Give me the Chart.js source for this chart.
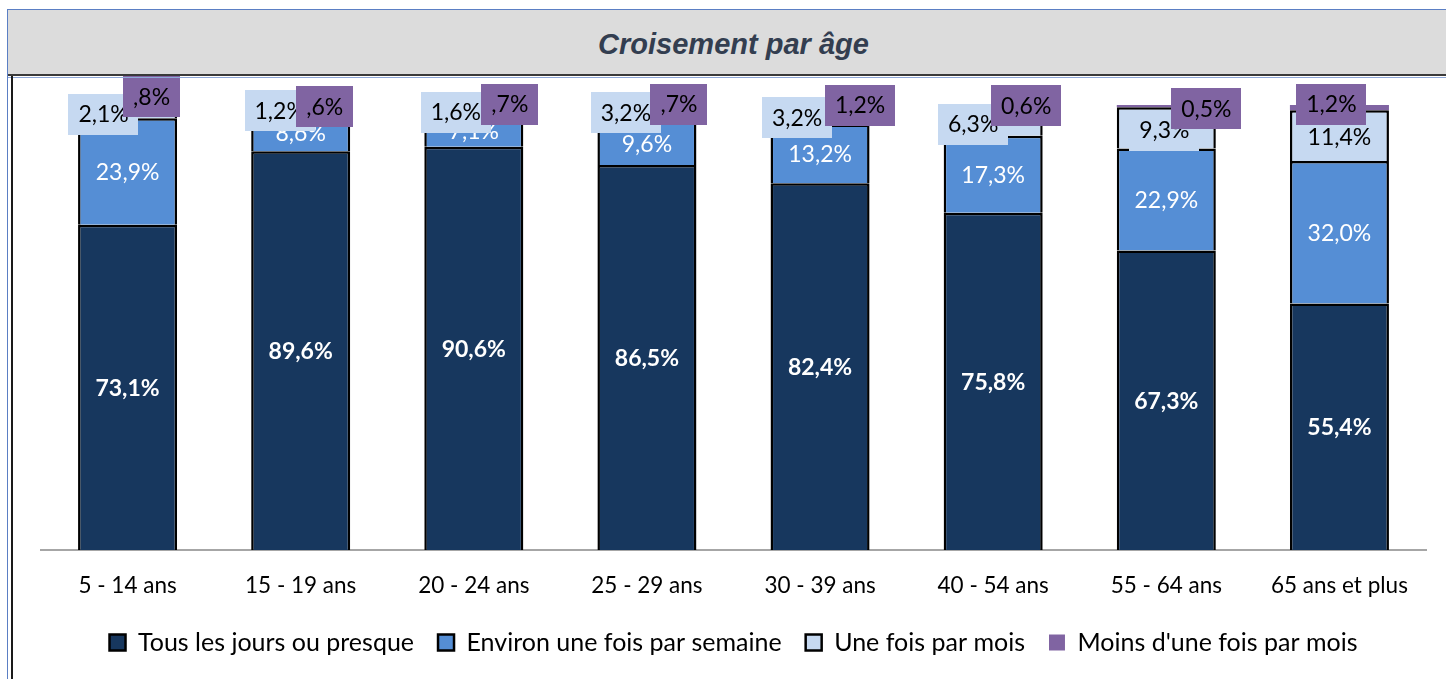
<!DOCTYPE html>
<html lang="fr">
<head>
<meta charset="utf-8">
<title>Croisement par âge</title>
<script src="https://cdn.jsdelivr.net/npm/chart.js@4.4.1/dist/chart.umd.min.js"></script>
<style>
  html, body { margin: 0; padding: 0; background: #fff; }
  #cadre { position: relative; width: 1446px; height: 679px; overflow: hidden; }
  #graph { position: absolute; left: 0; top: 0; }
  #titre {
    position: absolute; left: 7px; top: 9px; width: 1439px; height: 67px;
    box-sizing: border-box; padding-left: 13px;
    background: #dcdcdc;
    border-top: 1px solid #5b7fc4; border-left: 1px solid #5b7fc4; border-bottom: 2px solid #3a3a3a;
    font: italic bold 29px "Liberation Sans", Arial, sans-serif;
    color: #333e50; text-align: center; line-height: 68px;
  }
  .trait { position: absolute; }
</style>
</head>
<body>
<div id="cadre">
  <canvas id="graph" width="1446" height="679"></canvas>
  <div id="titre">Croisement par âge</div>
  <div class="trait" style="left:7px;top:77px;width:1439px;height:1px;background:#8fa8d8"></div>
  <div class="trait" style="left:7px;top:9px;width:1px;height:670px;background:#5b7fc4"></div>
  <div class="trait" style="left:11px;top:76px;width:2px;height:603px;background:#1a1a1a"></div>
</div>
<script>
// tranches d'âge
const categories = ['5 - 14 ans', '15 - 19 ans', '20 - 24 ans', '25 - 29 ans',
                    '30 - 39 ans', '40 - 54 ans', '55 - 64 ans', '65 ans et plus'];

// fréquence, en % de chaque tranche
const tousLesJours     = [73.1, 89.6, 90.6, 86.5, 82.4, 75.8, 67.3, 55.4];
const uneFoisSemaine   = [23.9, 8.6, 7.1, 9.6, 13.2, 17.3, 22.9, 32.0];
const uneFoisMois      = [2.1, 1.2, 1.6, 3.2, 3.2, 6.3, 9.3, 11.4];
const moinsUneFoisMois = [0.8, 0.6, 0.7, 0.7, 1.2, 0.6, 0.5, 1.2];

const seriesNames = ['Tous les jours ou presque', 'Environ une fois par semaine',
                     'Une fois par mois', "Moins d'une fois par mois"];

const couleurs = ['#17375e', '#558ed5', '#c6d9f1', '#8064a2'];

// style des étiquettes (décalages des petites valeurs posées hors des barres)
const styleEtiquettes = [
  { font: 'bold 23px Lato', color: '#fff' },
  { font: '23px Lato', color: '#fff' },
  { font: '23px Lato', color: '#000', bg: '#c6d9f1',
    dx: [-24, -21, -18, -21, -23, -20, -2, 0],
    dy: [0, 0, 0, -3, 0, 2, 2, 1] },
  { font: '23px Lato', color: '#000', bg: '#8064a2',
    dx: [24, 24, 36, 32, 40, 33, 40, -8],
    dy: [-11, 0, -3, -3, -3, -1, 2, -4],
    sansZero: [true, true, true, true, false, false, false, false] }
];

function pct(v) {
  return v.toFixed(1).replace('.', ',') + '%';
}

const etiquettes = {
  id: 'etiquettes',
  afterDatasetsDraw(chart) {
    const ctx = chart.ctx;
    chart.data.datasets.forEach((ds, d) => {
      const st = styleEtiquettes[d];
      chart.getDatasetMeta(d).data.forEach((bar, i) => {
        let txt = pct(ds.data[i]);
        if (st.sansZero && st.sansZero[i]) txt = txt.replace(/^0/, '');
        const x = bar.x + (st.dx ? st.dx[i] : 0);
        const y = (bar.y + bar.base) / 2 + (st.dy ? st.dy[i] : 0);
        ctx.save();
        ctx.font = st.font;
        const w = ctx.measureText(txt).width;
        if (st.bg) {
          ctx.fillStyle = st.bg;
          ctx.fillRect(Math.round(x - w / 2 - 10), Math.round(y - 20), Math.round(w + 20), 41);
        }
        ctx.fillStyle = st.color;
        ctx.textAlign = 'center';
        ctx.textBaseline = 'middle';
        ctx.fillText(txt, x, y + 1);
        ctx.restore();
      });
    });
  }
};

Chart.defaults.font.family = 'Lato';
Chart.defaults.color = '#000';

const valeurs = [tousLesJours, uneFoisSemaine, uneFoisMois, moinsUneFoisMois];

new Chart(document.getElementById('graph'), {
  type: 'bar',
  data: {
    labels: categories,
    datasets: valeurs.map((v, k) => ({
      label: seriesNames[k],
      data: v,
      backgroundColor: couleurs[k],
      borderColor: '#000',
      borderWidth: k === 3 ? 0 : 2.5,
      barPercentage: 0.572,
      categoryPercentage: 1
    }))
  },
  options: {
    responsive: false,
    animation: false,
    layout: { padding: { left: 41, right: 20, top: 105, bottom: 14 } },
    plugins: {
      title: { display: false },
      tooltip: { enabled: false },
      legend: {
        position: 'bottom',
        labels: { boxWidth: 16, boxHeight: 16, padding: 24, font: { size: 25 }, color: '#000' }
      }
    },
    scales: {
      x: {
        stacked: true,
        grid: { display: false, drawTicks: false },
        border: { display: true, color: '#a6a6a6', width: 2 },
        ticks: { padding: 22, font: { size: 22.5 }, color: '#000' },
        afterFit(scale) { scale.height = 56; }
      },
      y: {
        stacked: true,
        display: false,
        min: 0,
        max: 100
      }
    }
  },
  plugins: [etiquettes]
});
</script>
</body>
</html>
